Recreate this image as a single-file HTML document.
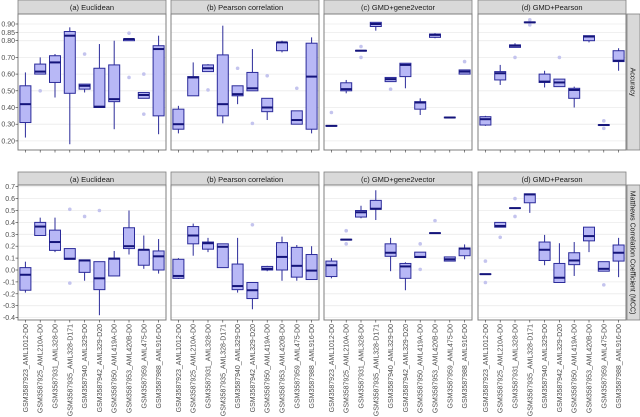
<!DOCTYPE html>
<html><head><meta charset="utf-8"><style>
html,body{margin:0;padding:0;background:#fff;}
svg{display:block;font-family:"Liberation Sans",sans-serif;}
</style></head><body>
<svg id="chart" width="640" height="417"></svg>
<script>
const categories=["GSM3587923_AML1012-D0","GSM3587925_AML210A-D0","GSM3587931_AML328-D0","GSM3587935_AML328-D171","GSM3587940_AML329-D0","GSM3587942_AML329-D20","GSM3587950_AML419A-D0","GSM3587953_AML420B-D0","GSM3587959_AML475-D0","GSM3587988_AML916-D0"];
const methods=["(a) Euclidean","(b) Pearson correlation","(c) GMD+gene2vector","(d) GMD+Pearson"];
const accTicks=[0.2,0.3,0.4,0.5,0.6,0.7,0.8,0.85,0.9];
const mccTicks=[-0.4,-0.3,-0.2,-0.1,0,0.1,0.2,0.3,0.4,0.5,0.6,0.7];
// [lo,q1,med,q3,hi,[outliers]]
const accA=[[0.22,0.31,0.42,0.53,0.61,[]],[0.60,0.60,0.615,0.66,0.70,[0.50]],[0.46,0.55,0.67,0.71,0.72,[]],[0.18,0.485,0.83,0.855,0.88,[]],[0.49,0.51,0.53,0.54,0.54,[0.72]],[0.40,0.40,0.405,0.635,0.78,[]],[0.27,0.435,0.45,0.655,0.80,[]],[0.80,0.80,0.81,0.81,0.81,[0.845,0.58]],[0.455,0.455,0.475,0.49,0.49,[0.60,0.36]],[0.24,0.35,0.75,0.77,0.83,[]]];
const accB=[[0.245,0.27,0.30,0.39,0.41,[]],[0.47,0.47,0.58,0.585,0.67,[]],[0.615,0.615,0.635,0.655,0.66,[0.505]],[0.305,0.35,0.42,0.715,0.89,[]],[0.42,0.47,0.48,0.53,0.53,[0.635]],[0.50,0.50,0.515,0.61,0.75,[0.305]],[0.325,0.375,0.40,0.455,0.455,[0.59]],[0.73,0.74,0.79,0.79,0.80,[]],[0.30,0.30,0.325,0.38,0.38,[0.515]],[0.245,0.27,0.585,0.785,0.82,[]]];
const accC=[[0.288,0.288,0.29,0.292,0.292,[0.37]],[0.485,0.50,0.51,0.548,0.565,[]],[0.738,0.738,0.74,0.742,0.742,[0.765,0.70]],[0.86,0.885,0.90,0.91,0.91,[]],[0.555,0.555,0.57,0.58,0.58,[0.51]],[0.515,0.585,0.655,0.665,0.665,[]],[0.355,0.39,0.43,0.435,0.455,[]],[0.815,0.82,0.835,0.84,0.845,[]],[0.338,0.338,0.34,0.342,0.342,[]],[0.60,0.60,0.615,0.625,0.625,[0.675]]];
const accD=[[0.29,0.295,0.33,0.345,0.35,[]],[0.535,0.565,0.605,0.615,0.655,[]],[0.76,0.76,0.77,0.775,0.785,[0.70]],[0.908,0.908,0.91,0.912,0.912,[0.925,0.895]],[0.52,0.55,0.555,0.60,0.62,[]],[0.525,0.525,0.55,0.57,0.57,[0.70]],[0.40,0.455,0.505,0.515,0.525,[]],[0.79,0.80,0.825,0.83,0.83,[]],[0.293,0.293,0.295,0.297,0.297,[0.32,0.275]],[0.62,0.675,0.68,0.74,0.755,[]]];
const mccA=[[-0.19,-0.17,-0.04,0.02,0.07,[]],[0.29,0.29,0.365,0.40,0.44,[]],[0.15,0.165,0.235,0.335,0.44,[]],[0.09,0.09,0.095,0.18,0.18,[0.51,-0.11]],[-0.09,-0.02,0.08,0.085,0.085,[0.45]],[-0.38,-0.165,-0.07,0.07,0.07,[0.50]],[-0.05,-0.05,0.095,0.10,0.16,[]],[0.13,0.18,0.20,0.355,0.50,[]],[0.01,0.04,0.17,0.17,0.29,[]],[-0.03,0.0,0.115,0.16,0.26,[]]];
const mccB=[[-0.075,-0.07,-0.05,0.09,0.10,[]],[0.12,0.22,0.29,0.365,0.39,[]],[0.15,0.175,0.225,0.235,0.27,[]],[0.02,0.02,0.195,0.22,0.22,[]],[-0.19,-0.165,-0.135,0.05,0.27,[]],[-0.33,-0.24,-0.17,-0.105,-0.105,[0.38]],[-0.01,0.0,0.01,0.03,0.035,[]],[-0.09,0.0,0.11,0.23,0.28,[]],[-0.09,-0.06,0.035,0.19,0.21,[]],[-0.08,-0.08,-0.005,0.13,0.20,[]]];
const mccC=[[-0.07,-0.055,0.04,0.075,0.10,[]],[0.252,0.252,0.255,0.258,0.258,[0.33,0.22]],[0.435,0.445,0.485,0.50,0.54,[]],[0.42,0.51,0.515,0.585,0.67,[]],[-0.01,0.115,0.145,0.22,0.27,[]],[-0.17,-0.07,0.03,0.055,0.065,[]],[0.105,0.105,0.11,0.15,0.15,[0.22,0.005]],[0.308,0.308,0.31,0.312,0.312,[0.415]],[0.075,0.075,0.09,0.11,0.11,[]],[0.09,0.12,0.18,0.185,0.215,[]]];
const mccD=[[-0.037,-0.037,-0.035,-0.033,-0.033,[0.075,-0.105]],[0.36,0.36,0.37,0.40,0.40,[0.275]],[0.518,0.518,0.52,0.522,0.522,[0.60,0.45]],[0.48,0.565,0.635,0.64,0.64,[]],[0.04,0.08,0.17,0.235,0.295,[]],[-0.105,-0.105,-0.065,0.055,0.225,[]],[-0.05,0.045,0.08,0.145,0.235,[]],[0.15,0.245,0.285,0.36,0.36,[]],[-0.01,-0.01,0.01,0.07,0.07,[-0.125]],[-0.06,0.075,0.145,0.21,0.27,[]]];

const NS="http://www.w3.org/2000/svg";
const svg=document.getElementById('chart');
function mk(t,a,p){const e=document.createElementNS(NS,t);for(const k in a)e.setAttribute(k,a[k]);(p||svg).appendChild(e);return e;}
const panelX=[18,171,324,478],PW=148;
const rows=[{top:14,bot:150,strip:0,yv:v=>24+(0.9-v)*167,ticks:accTicks,fmt:v=>v.toFixed(2),data:[accA,accB,accC,accD],label:"Accuracy",rn:"accuracy"},
{top:185,bot:320,strip:172,yv:v=>270-v*119,ticks:mccTicks,fmt:v=>(Math.round(v*10)/10).toFixed(1),data:[mccA,mccB,mccC,mccD],label:"Matthews Correlation Coefficient (MCC)",rn:"mcc"}];
const xc=(p,i)=>panelX[p]+7.4+i*14.8;
rows.forEach((r,ri)=>{
  panelX.forEach((px,p)=>{
    const g=mk('g',{});
    
    
    const st=mk('rect',{x:px,y:r.strip,width:PW,height:r.top-r.strip,fill:'#d9d9d9',stroke:'#7f7f7f','stroke-width':0.8},g);
    
    
    const tt=mk('text',{x:px+PW/2,y:r.strip+10,'text-anchor':'middle','font-size':7.5,fill:'#1a1a1a'},g);tt.textContent=methods[p];
    
    
    mk('rect',{x:px,y:r.top,width:PW,height:r.bot-r.top,fill:'#fff'},g);
    r.ticks.forEach(t=>{mk('line',{x1:px,x2:px+PW,y1:r.yv(t),y2:r.yv(t),stroke:'#ebebeb','stroke-width':0.8},g);});
    r.data[p].forEach((d,i)=>{
      const x=xc(p,i),w=11;
      const b=mk('g',{},g);
      
      
      d[5].forEach(o=>{mk('circle',{cx:x,cy:r.yv(o),r:1.8,fill:'#c4c4ee'},b);});
      mk('line',{x1:x,x2:x,y1:r.yv(d[4]),y2:r.yv(d[0]),stroke:'#2b2b9a','stroke-width':1},b);
      const y1=r.yv(d[3]),y2=r.yv(d[1]);
      mk('rect',{x:x-w/2,y:y1,width:w,height:Math.max(y2-y1,0.5),fill:'#b8b8f6',stroke:'#2b2b9a','stroke-width':1},b);
      mk('line',{x1:x-w/2,x2:x+w/2,y1:r.yv(d[2]),y2:r.yv(d[2]),stroke:'#14147a','stroke-width':2},b);
    });
    mk('rect',{x:px,y:r.top,width:PW,height:r.bot-r.top,fill:'none',stroke:'#7f7f7f','stroke-width':1},g);
    categories.forEach((c,i)=>{
      const x=xc(p,i);
      mk('line',{x1:x,x2:x,y1:r.bot,y2:r.bot+2.5,stroke:'#333','stroke-width':0.6},g);
      if(ri===1){
        const t=mk('text',{x:0,y:0,transform:`translate(${x+2.5},${r.bot+4}) rotate(-90)`,'text-anchor':'end','font-size':7,fill:'#4d4d4d'},g);
        t.textContent=c;
        
        
      }
    });
  });
  r.ticks.forEach(t=>{
    mk('line',{x1:15.5,x2:18,y1:r.yv(t),y2:r.yv(t),stroke:'#333','stroke-width':0.6});
    const tx=mk('text',{x:15,y:r.yv(t)+2.5,'text-anchor':'end','font-size':7,fill:'#4d4d4d'});
    tx.textContent=r.fmt(t);
    
    
  });
  const rs=mk('rect',{x:627,y:r.top,width:13,height:r.bot-r.top,fill:'#d9d9d9',stroke:'#7f7f7f','stroke-width':0.8});
  
  
  const rl=mk('text',{x:0,y:0,transform:`translate(630.5,${(r.top+r.bot)/2}) rotate(90)`,'text-anchor':'middle','font-size':7,fill:'#1a1a1a'});
  rl.textContent=r.label;
  
  
});
</script>
</body></html>
